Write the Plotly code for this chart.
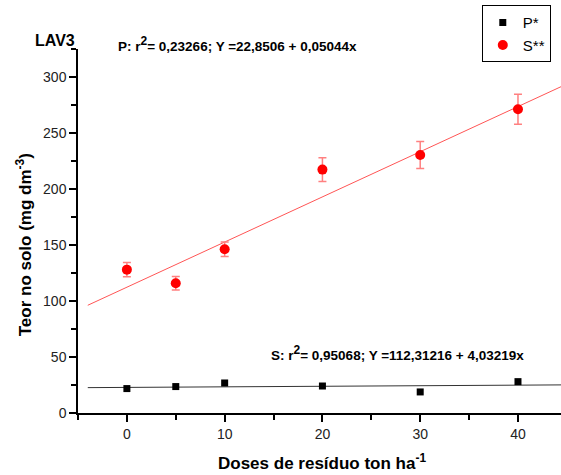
import numpy as np
import plotly.graph_objects as go

# Doses (ton/ha) and soil contents (mg/dm3)
doses = [0, 5, 10, 20, 30, 40]
p_values = [21.8, 23.6, 26.8, 24.1, 18.8, 28.0]
s_values = [128.0, 115.8, 146.2, 217.3, 230.4, 271.2]
s_errors = [6.4, 6.0, 6.5, 10.7, 12.0, 13.4]

# Linear fits (intercept, slope)
p_fit = (22.8506, 0.05044)
s_fit = (112.31216, 4.03219)
fit_x = np.array([-4.0, 44.4])

FONT = "Liberation Sans, Arial, sans-serif"
SUP2 = "<sup><span style='font-size:12px'>2</span></sup>"

fig = go.Figure()

fig.add_trace(go.Scatter(
    x=fit_x, y=p_fit[0] + p_fit[1] * fit_x, mode="lines",
    line=dict(color="#333333", width=1), showlegend=False, hoverinfo="skip",
))
fig.add_trace(go.Scatter(
    x=fit_x, y=s_fit[0] + s_fit[1] * fit_x, mode="lines",
    line=dict(color="#ff5555", width=1), showlegend=False, hoverinfo="skip",
))

fig.add_trace(go.Scatter(
    x=doses, y=p_values, mode="markers", name="P*",
    marker=dict(symbol="square", size=7, color="black"),
))
fig.add_trace(go.Scatter(
    x=doses, y=s_values, mode="markers", name="S**",
    marker=dict(symbol="circle", size=10, color="#ff0000"),
    error_y=dict(type="data", array=s_errors, color="#ff8080",
                 thickness=1.5, width=4),
))

L, R, T, B = 78, 0, 48.7, 62.3
fig.update_layout(
    width=561, height=475,
    margin=dict(l=L, r=R, t=T, b=B),
    paper_bgcolor="white", plot_bgcolor="white",
    font=dict(family=FONT, color="black", size=14),
    legend=dict(
        x=0.836, y=(412.7 - 33.5) / 364, xanchor="left", yanchor="middle",
        bordercolor="black", borderwidth=1, bgcolor="white",
        font=dict(size=15, family=FONT),
        itemwidth=30, tracegroupgap=0,
    ),
    xaxis=dict(
        range=[-5, 44.4], showgrid=False, zeroline=False,
        showline=True, linecolor="black", linewidth=1.5,
        ticks="outside", ticklen=7, tickwidth=1.5, tickcolor="black",
        tickvals=[0, 10, 20, 30, 40],
        tickfont=dict(size=14, color="#222222"),
        minor=dict(tickvals=[-5, 5, 15, 25, 35], ticks="outside",
                   ticklen=5, tickwidth=1.5, tickcolor="black"),
    ),
    yaxis=dict(
        range=[0, 325], showgrid=False, zeroline=False,
        showline=True, linecolor="black", linewidth=1.5,
        ticks="outside", ticklen=7, tickwidth=1.5, tickcolor="black",
        tickvals=[0, 50, 100, 150, 200, 250, 300],
        tickfont=dict(size=14, color="#222222"),
        minor=dict(tickvals=[25, 75, 125, 175, 225, 275, 325], ticks="outside",
                   ticklen=5, tickwidth=1.5, tickcolor="black"),
    ),
)

fig.add_annotation(
    text="<b>LAV3</b>", xref="paper", yref="paper",
    x=(33 - L) / 483, y=(412.7 - 40.5) / 364, xanchor="left", yanchor="middle",
    showarrow=False, font=dict(size=16, family=FONT),
)
fig.add_annotation(
    text="<b>P: r" + SUP2 + "= 0,23266; Y =22,8506 + 0,05044x</b>",
    xref="paper", yref="paper",
    x=(116 - L) / 483, y=(412.7 - 44) / 364, xanchor="left", yanchor="middle",
    showarrow=False, font=dict(size=13.5, family=FONT),
)
fig.add_annotation(
    text="<b>S: r" + SUP2 + "= 0,95068; Y =112,31216 + 4,03219x</b>",
    xref="paper", yref="paper",
    x=(269 - L) / 483, y=(412.7 - 353) / 364, xanchor="left", yanchor="middle",
    showarrow=False, font=dict(size=13.5, family=FONT),
)
fig.add_annotation(
    text="<b>Doses de resíduo ton ha<sup>-1</sup></b>",
    xref="paper", yref="paper",
    x=(322 - L) / 483, y=(412.7 - 462) / 364, xanchor="center", yanchor="middle",
    showarrow=False, font=dict(size=17, family=FONT),
)
fig.add_annotation(
    text="<b>Teor no solo (mg dm<sup>-3</sup>)</b>",
    xref="paper", yref="paper",
    x=(24 - L) / 483, y=(412.7 - 245) / 364, xanchor="center", yanchor="middle",
    textangle=-90, showarrow=False, font=dict(size=17, family=FONT),
)

fig.write_html("out.html")
